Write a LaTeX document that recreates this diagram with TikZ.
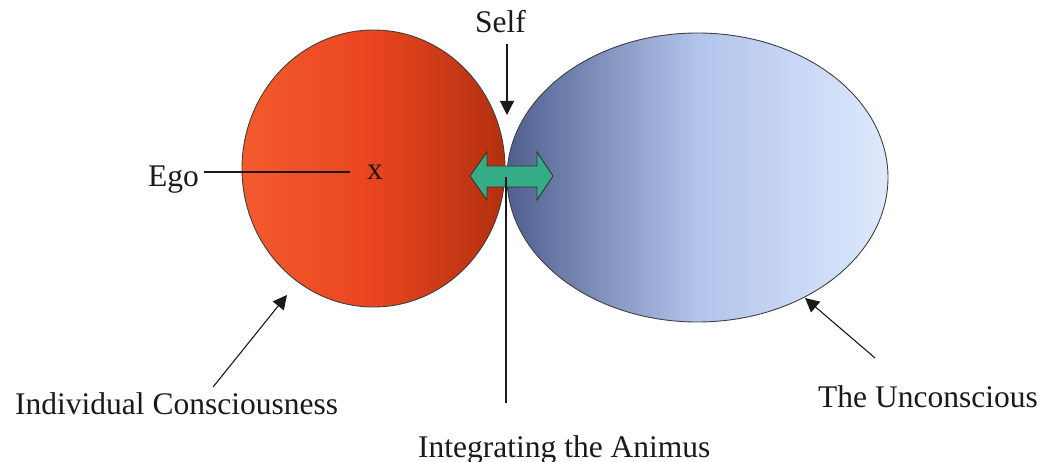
\documentclass[tikz,border=0pt]{standalone}
\usepackage{fontspec}
\setmainfont{Liberation Serif}
\usetikzlibrary{shapes.geometric,arrows.meta}
\definecolor{redL}{HTML}{F55A2E}
\definecolor{redM}{HTML}{E8451F}
\definecolor{redR}{HTML}{B3300F}
\definecolor{bluL}{HTML}{505F8E}
\definecolor{bluM}{HTML}{B2C4EC}
\definecolor{bluR}{HTML}{DEE9FC}
\definecolor{arrteal}{HTML}{35AD87}
\definecolor{ink}{HTML}{1A1A1A}
\begin{document}
\begin{tikzpicture}[x=1pt,y=-1pt,
  lbl/.style={font=\fontsize{31.5}{36}\selectfont, inner sep=0pt, text=ink, anchor=base west},
  ptr/.style={-{Triangle[length=14pt,width=14pt]}, line width=1.1pt, draw=ink},
  plain/.style={line width=1.1pt, draw=ink},
  blob/.style={ellipse, draw=black!75, line width=0.9pt, inner sep=0pt}]
\useasboundingbox (0,0) rectangle (1045,462);
% ellipses
\node[blob, minimum width=381pt, minimum height=289pt,
      left color=bluL, right color=bluR, middle color=bluM] (un) at (697.5,177.5) {};
\node[blob, minimum width=263pt, minimum height=277pt,
      left color=redL, right color=redR, middle color=redM] (ic) at (373.5,168.5) {};
% green double arrow
\draw[fill=arrteal, draw=black!80, line width=0.9pt]
  (470,176) -- (487,152) -- (487,166) -- (537,166) -- (537,152) -- (553,176)
  -- (537,200) -- (537,187) -- (487,187) -- (487,200) -- cycle;
\coordinate (mid) at (506,177);
% labels
\node[lbl] (self) at (475,33) {Self};
\node[lbl] (ego) at (148,187) {Ego};
\node[lbl] (xm) at (367,180) {x};
\node[lbl] (indiv) at (15,415) {Individual Consciousness};
\node[lbl] (unc) at (818,408) {The Unconscious};
\node[lbl] (integ) at (418,457) {Integrating the Animus};
% connector end points
\coordinate (selftip) at (507,115);
\coordinate (ictip) at (287,295);
\coordinate (untip) at (805,298);
% connectors
\draw[plain] ([xshift=5pt]ego.east |- 0,172) -- ([xshift=-17pt]xm.west |- 0,172);
\draw[ptr] (selftip |- self.south) ++(0,10) -- (selftip);
\draw[plain] (mid) -- ([yshift=32pt]mid |- integ.north);
\draw[ptr] ([shift={(36.5,-6)}]indiv.north) -- (ictip);
\draw[ptr] ([shift={(-53,-28)}]unc.north) -- (untip);
\end{tikzpicture}
\end{document}
